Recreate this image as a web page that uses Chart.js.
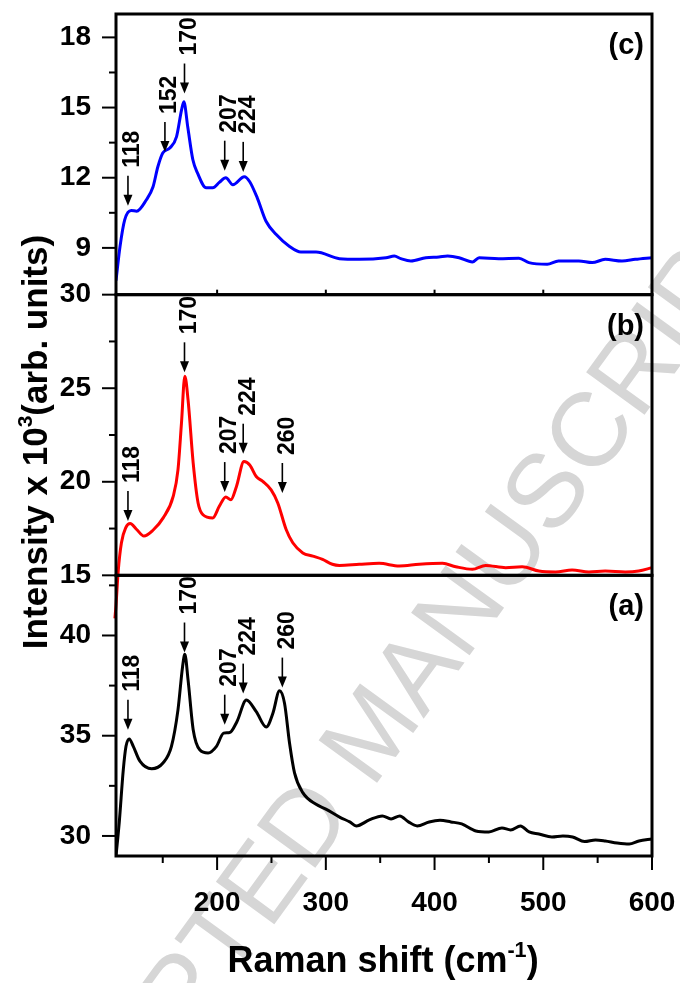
<!DOCTYPE html>
<html>
<head>
<meta charset="utf-8">
<script src="https://cdn.jsdelivr.net/npm/chart.js@4.4.1/dist/chart.umd.min.js"></script>
<style>
  body { margin: 0; background: #fff; }
  canvas { display: block; }
</style>
</head>
<body>
<canvas id="raman" width="680" height="983"></canvas>
<script>
const FONT = "'Liberation Sans', Arial, sans-serif";

// spectrum (a) - black
const shiftA = [107, 110, 113.7, 116.2, 119.2, 122.9, 129, 139.8, 150.4, 158, 164, 168.2, 170.3, 173.3, 178, 184, 191.7, 199.4, 206, 211.6, 218.3, 226.9, 236, 245.2, 251.3, 257.4, 262, 266.6, 271.2, 278.8, 291, 300, 313, 322, 328, 340, 352, 360, 368, 376, 384, 395, 405, 415, 425, 438, 450, 462, 470, 479, 487, 496, 508, 518, 527, 538, 548, 557, 568, 579, 588, 600];
const intensityA = [29.0, 30.68, 33.3, 34.47, 34.84, 34.47, 33.73, 33.35, 33.65, 34.47, 36.29, 38.43, 39.06, 37.77, 35.3, 34.3, 34.14, 34.47, 35.13, 35.16, 35.71, 36.78, 36.2, 35.43, 36.12, 37.24, 36.62, 34.64, 33.15, 32.16, 31.58, 31.34, 30.93, 30.7, 30.5, 30.8, 31.0, 30.85, 31.0, 30.7, 30.5, 30.7, 30.78, 30.7, 30.6, 30.25, 30.2, 30.4, 30.3, 30.5, 30.2, 30.1, 29.95, 30.0, 29.95, 29.72, 29.8, 29.75, 29.65, 29.6, 29.75, 29.85];

// spectrum (b) - red
const shiftB = [106, 107, 109, 112, 116, 120, 126, 132.7, 141, 150.4, 159.6, 164, 167.2, 170.3, 173.3, 178, 182.5, 187, 196, 202, 208, 212.6, 217.8, 224.7, 230, 236, 242, 249.7, 255.8, 263.5, 269.6, 278.8, 288, 297, 306, 312.5, 330.8, 349, 367.5, 385.9, 407.3, 419.5, 434.8, 447, 465.4, 480.6, 496, 511.3, 526.5, 542, 557, 575.4, 587.7, 600];
const intensityB = [12.7, 13.4, 15.2, 16.74, 17.55, 17.77, 17.45, 17.1, 17.41, 18.07, 19.22, 20.64, 23.12, 25.64, 24.36, 21.0, 18.87, 18.24, 18.07, 18.69, 19.19, 19.04, 19.75, 21.08, 20.9, 20.28, 20.02, 19.57, 18.87, 17.45, 16.74, 16.2, 16.03, 15.85, 15.59, 15.53, 15.59, 15.64, 15.5, 15.59, 15.64, 15.46, 15.32, 15.53, 15.41, 15.46, 15.23, 15.18, 15.28, 15.18, 15.23, 15.18, 15.23, 15.41];

// spectrum (c) - blue
const shiftC = [107, 110.7, 115, 121, 126, 135, 141, 145.5, 150, 156.5, 162.7, 167.3, 169.4, 173, 177.7, 182, 190, 196, 202, 208, 214.5, 225, 230, 237, 245, 254.4, 266.6, 277, 291, 312.5, 330.8, 355.4, 363, 369, 378.2, 392, 404, 412, 422.6, 434.8, 441, 459, 477.6, 486.8, 503.6, 514, 532.7, 545, 557, 572.4, 584.6, 600];
const intensityC = [7.6, 9.06, 10.2, 10.6, 10.57, 11.06, 11.6, 12.47, 13.06, 13.27, 13.76, 14.9, 15.25, 14.17, 12.77, 12.2, 11.57, 11.57, 11.8, 12.0, 11.7, 12.04, 11.83, 11.13, 10.14, 9.57, 9.06, 8.82, 8.82, 8.54, 8.51, 8.58, 8.65, 8.54, 8.44, 8.58, 8.61, 8.65, 8.58, 8.4, 8.58, 8.54, 8.56, 8.37, 8.3, 8.44, 8.44, 8.37, 8.51, 8.44, 8.51, 8.58];

// axes
const xTicks = [200, 300, 400, 500, 600];
const xMinor = [150, 250, 350, 450, 550];
const ticksA = [30, 35, 40];
const minorA = [32.5, 37.5, 42.5];
const ticksB = [15, 20, 25, 30];
const minorB = [17.5, 22.5, 27.5];
const ticksC = [9, 12, 15, 18];
const minorC = [10.5, 13.5, 16.5];

// peak arrows: band position and where the arrow tip sits
const peaksA = [118, 170, 207, 224, 260];
const tipsA = [35.3, 39.15, 35.55, 37.1, 37.4];
const peaksB = [118, 170, 207, 224, 260];
const tipsB = [17.9, 25.85, 19.45, 21.5, 19.4];
const peaksC = [118, 152, 170, 207, 224];
const tipsC = [10.8, 13.1, 15.6, 12.3, 12.25];

const toPoints = (xs, ys) => xs.map((x, i) => ({ x: x, y: ys[i] }));

function yScale(min, max, ticks) {
    return {
        stack: 'panels',
        stackWeight: 1,
        min: min,
        max: max,
        afterBuildTicks: s => { s.ticks = ticks.map(v => ({ value: v })); },
        afterFit: s => { s.width = 100; s.paddingTop = 0; s.paddingBottom = 0; },
        grid: { display: false, drawTicks: false },
        border: { display: false },
        ticks: { color: '#000', padding: 25, autoSkip: false, font: { size: 28, weight: 'bold' } }
    };
}

// text with a superscript part, centred on the current origin
function richText(ctx, parts, size) {
    let total = 0;
    parts.forEach(p => {
        ctx.font = `bold ${p[1] ? size * 0.6 : size}px ${FONT}`;
        total += ctx.measureText(p[0]).width;
    });
    let x = -total / 2;
    parts.forEach(p => {
        ctx.font = `bold ${p[1] ? size * 0.6 : size}px ${FONT}`;
        ctx.fillText(p[0], x, p[1] ? -size * 0.42 : 0);
        x += ctx.measureText(p[0]).width;
    });
}

function drawPeaks(ctx, chart, scaleId, peaks, tips) {
    const xs = chart.scales.x;
    const ys = chart.scales[scaleId];
    peaks.forEach((p, i) => {
        const x = xs.getPixelForValue(p);
        const tip = ys.getPixelForValue(tips[i]);
        const top = tip - 30;
        ctx.lineWidth = 1.6;
        ctx.beginPath();
        ctx.moveTo(x, top);
        ctx.lineTo(x, tip - 8);
        ctx.stroke();
        ctx.beginPath();
        ctx.moveTo(x, tip);
        ctx.lineTo(x - 4.5, tip - 11);
        ctx.lineTo(x + 4.5, tip - 11);
        ctx.closePath();
        ctx.fill();
        ctx.save();
        ctx.translate(x + 5, top - 8);
        ctx.rotate(-Math.PI / 2);
        ctx.font = `bold 23px ${FONT}`;
        ctx.textAlign = 'left';
        ctx.textBaseline = 'middle';
        ctx.fillText(String(p), 0, 0);
        ctx.restore();
    });
}

const decorations = {
    id: 'decorations',
    beforeDraw(chart) {
        // journal watermark behind the plot
        const ctx = chart.ctx;
        ctx.save();
        ctx.translate(376, 735);
        ctx.rotate(-54 * Math.PI / 180);
        ctx.font = `105px ${FONT}`;
        ctx.fillStyle = '#d6d6d6';
        ctx.textAlign = 'center';
        ctx.textBaseline = 'middle';
        ctx.fillText('ACCEPTED MANUSCRIPT', 0, 0);
        ctx.restore();
    },
    afterDraw(chart) {
        const ctx = chart.ctx;
        const area = chart.chartArea;
        const xs = chart.scales.x;
        ctx.save();
        ctx.strokeStyle = '#000';
        ctx.fillStyle = '#000';

        const panels = [
            ['yC', ticksC, minorC, '(c)'],
            ['yB', ticksB, minorB, '(b)'],
            ['yA', ticksA, minorA, '(a)']
        ];
        panels.forEach(([id, major, minor, tag]) => {
            const s = chart.scales[id];
            ctx.lineWidth = 3;
            ctx.strokeRect(area.left, s.top, area.right - area.left, s.bottom - s.top);
            ctx.lineWidth = 2;
            major.forEach(v => {
                const y = s.getPixelForValue(v);
                ctx.beginPath(); ctx.moveTo(area.left - 14, y); ctx.lineTo(area.left, y); ctx.stroke();
            });
            minor.forEach(v => {
                const y = s.getPixelForValue(v);
                ctx.beginPath(); ctx.moveTo(area.left - 7, y); ctx.lineTo(area.left, y); ctx.stroke();
            });
            ctx.font = `bold 29px ${FONT}`;
            ctx.textAlign = 'right';
            ctx.textBaseline = 'middle';
            ctx.fillText(tag, area.right - 8, s.top + 32);
        });

        // bottom axis ticks, and small ones on the (b)/(c) boundary
        ctx.lineWidth = 2;
        xTicks.forEach(v => {
            const x = xs.getPixelForValue(v);
            ctx.beginPath(); ctx.moveTo(x, area.bottom); ctx.lineTo(x, area.bottom + 14); ctx.stroke();
            const yb = chart.scales.yB.top;
            ctx.beginPath(); ctx.moveTo(x, yb); ctx.lineTo(x, yb - 5); ctx.stroke();
        });
        xMinor.forEach(v => {
            const x = xs.getPixelForValue(v);
            ctx.beginPath(); ctx.moveTo(x, area.bottom); ctx.lineTo(x, area.bottom + 7); ctx.stroke();
        });

        drawPeaks(ctx, chart, 'yC', peaksC, tipsC);
        drawPeaks(ctx, chart, 'yB', peaksB, tipsB);
        drawPeaks(ctx, chart, 'yA', peaksA, tipsA);

        ctx.textAlign = 'left';
        ctx.textBaseline = 'alphabetic';
        ctx.save();
        ctx.translate(47, 442);
        ctx.rotate(-Math.PI / 2);
        richText(ctx, [['Intensity x 10', false], ['3', true], ['(arb. units)', false]], 35);
        ctx.restore();

        ctx.save();
        ctx.translate(383, 972);
        richText(ctx, [['Raman shift (cm', false], ['-1', true], [')', false]], 36);
        ctx.restore();

        ctx.restore();
    }
};

Chart.defaults.font.family = FONT;

new Chart(document.getElementById('raman'), {
    type: 'line',
    data: {
        datasets: [
            { data: toPoints(shiftA, intensityA), yAxisID: 'yA', borderColor: '#000000' },
            { data: toPoints(shiftB, intensityB), yAxisID: 'yB', borderColor: '#ff0000', clip: false },
            { data: toPoints(shiftC, intensityC), yAxisID: 'yC', borderColor: '#0000ff' }
        ]
    },
    options: {
        responsive: false,
        animation: false,
        layout: { padding: { left: 16, right: 28, top: 14, bottom: 0 } },
        elements: {
            point: { radius: 0 },
            line: { borderWidth: 3, cubicInterpolationMode: 'monotone' }
        },
        plugins: { legend: { display: false }, tooltip: { enabled: false } },
        scales: {
            x: {
                type: 'linear',
                min: 107,
                max: 600,
                afterBuildTicks: s => { s.ticks = xTicks.map(v => ({ value: v })); },
                afterFit: s => { s.height = 127; s.paddingLeft = 0; s.paddingRight = 0; },
                grid: { display: false, drawTicks: false },
                border: { display: false },
                ticks: { color: '#000', padding: 30, autoSkip: false, maxRotation: 0, font: { size: 28, weight: 'bold' } }
            },
            yA: yScale(29, 43, ticksA),
            yB: yScale(15, 30, ticksB),
            yC: yScale(7, 19, ticksC)
        }
    },
    plugins: [decorations]
});
</script>
</body>
</html>
